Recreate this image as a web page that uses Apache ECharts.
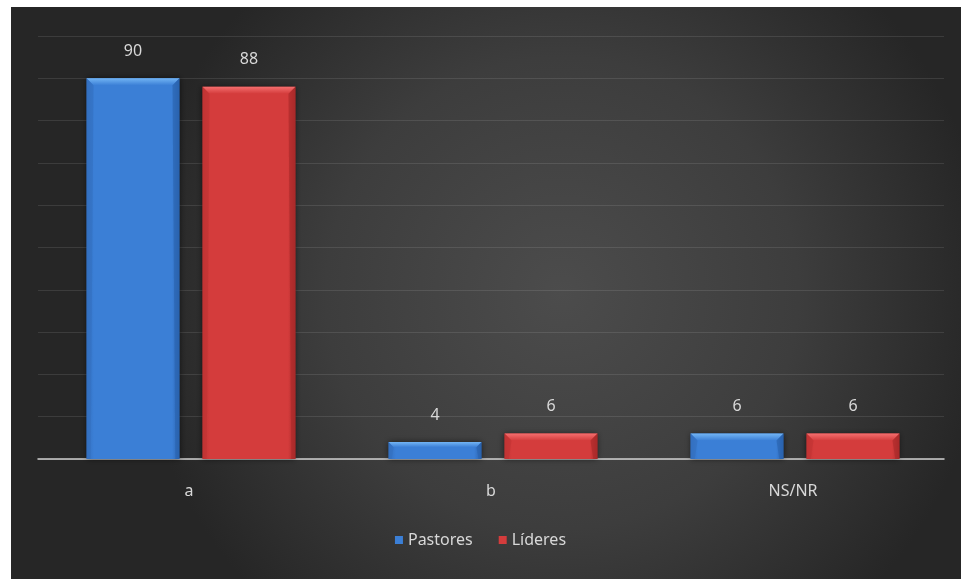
<!DOCTYPE html>
<html>
<head>
<meta charset="utf-8">
<style>
  html, body { margin: 0; padding: 0; background: #ffffff; }
  #chart { width: 961px; height: 579px; }
</style>
<script src="https://cdn.jsdelivr.net/npm/echarts@6/dist/echarts.min.js"></script>
</head>
<body>
<div id="chart"></div>
<script>
// Answer categories and percentages per group
const categories = ['a', 'b', 'NS/NR'];
const pastores = [90, 4, 6];
const lideres = [88, 6, 6];
const seriesNames = ['Pastores', 'Líderes'];

const palette = [
  { face: '#3b7fd6', light: '#72b4f4', dark: '#2a62ad', side: '#336fbf' },
  { face: '#d43c3c', light: '#f46e6e', dark: '#a82a2a', side: '#c13434' }
];

const FONT = '"Noto Sans", "Open Sans", sans-serif';
const TEXT = '#d8d8d8';

// Beveled bar drawn through the category/value scales
function bevelBar(seriesIdx) {
  return function (params, api) {
    const xi = api.value(0);
    const v = api.value(1);
    const base = api.coord([xi, 0]);
    const top = api.coord([xi, v]);
    const band = api.size([1, 0])[0];
    const bw = band * 0.308;
    const gap = band * 0.076;
    const cx = base[0] + 2 + (seriesIdx === 0 ? -(gap / 2 + bw / 2) : (gap / 2 + bw / 2));
    const x0 = cx - bw / 2, x1 = cx + bw / 2;
    const y0 = top[1], y1 = base[1];
    const h = y1 - y0;
    const b = Math.min(7, h * 0.3);
    const c = palette[seriesIdx];
    return {
      type: 'group',
      children: [
        {
          type: 'rect',
          shape: { x: x0, y: y0, width: bw, height: h },
          style: {
            fill: {
              type: 'linear', x: 0, y: 0, x2: 1, y2: 0,
              colorStops: [
                { offset: 0, color: c.side },
                { offset: 0.08, color: c.face },
                { offset: 0.92, color: c.face },
                { offset: 1, color: c.dark }
              ]
            },
            shadowColor: 'rgba(0,0,0,0.55)',
            shadowBlur: 6
          }
        },
        {
          type: 'polygon',
          shape: { points: [[x0, y0], [x1, y0], [x1 - b, y0 + b], [x0 + b, y0 + b]] },
          style: {
            fill: {
              type: 'linear', x: 0, y: 0, x2: 0, y2: 1,
              colorStops: [
                { offset: 0, color: c.light },
                { offset: 1, color: c.face }
              ]
            }
          }
        },
        {
          type: 'polygon',
          shape: { points: [[x0, y0], [x0 + b, y0 + b], [x0 + b * 0.6, y1], [x0, y1]] },
          style: { fill: c.side, opacity: 0.6 }
        },
        {
          type: 'polygon',
          shape: { points: [[x1, y0], [x1 - b, y0 + b], [x1 - b * 0.6, y1], [x1, y1]] },
          style: { fill: c.dark, opacity: 0.6 }
        },
        {
          type: 'text',
          style: {
            x: cx, y: y0 - 27,
            text: String(v),
            fill: TEXT,
            font: '16px ' + FONT,
            align: 'center',
            verticalAlign: 'middle'
          }
        }
      ]
    };
  };
}

const chart = echarts.init(document.getElementById('chart'), null, { renderer: 'canvas' });

chart.setOption({
  animation: false,
  backgroundColor: '#ffffff',
  graphic: [{
    type: 'rect',
    z: -10,
    silent: true,
    shape: { x: 11, y: 7, width: 950, height: 572 },
    style: {
      fill: {
        type: 'radial', x: 0.58, y: 0.5, r: 0.75,
        colorStops: [
          { offset: 0, color: '#4c4c4c' },
          { offset: 0.55, color: '#3d3d3d' },
          { offset: 1, color: '#262626' }
        ]
      }
    }
  }],
  grid: { left: 38, right: 17, top: 36, bottom: 120 },
  legend: {
    data: seriesNames,
    bottom: 26,
    left: 'center',
    icon: 'rect',
    itemWidth: 8,
    itemHeight: 8,
    itemGap: 26,
    textStyle: { color: TEXT, fontSize: 16, fontFamily: FONT }
  },
  xAxis: {
    type: 'category',
    data: categories,
    axisLine: { lineStyle: { color: '#cfcfcf', width: 1.5 } },
    axisTick: { show: false },
    axisLabel: { color: TEXT, fontSize: 16, fontFamily: FONT, margin: 24 }
  },
  yAxis: {
    type: 'value',
    min: 0,
    max: 100,
    interval: 10,
    axisLine: { show: false },
    axisTick: { show: false },
    axisLabel: { show: false },
    splitLine: { lineStyle: { color: 'rgba(255,255,255,0.1)', width: 1 } }
  },
  series: [
    {
      name: seriesNames[0],
      type: 'custom',
      renderItem: bevelBar(0),
      itemStyle: { color: palette[0].face },
      encode: { x: 0, y: 1 },
      data: pastores.map((v, i) => [i, v])
    },
    {
      name: seriesNames[1],
      type: 'custom',
      renderItem: bevelBar(1),
      itemStyle: { color: palette[1].face },
      encode: { x: 0, y: 1 },
      data: lideres.map((v, i) => [i, v])
    }
  ]
});
</script>
</body>
</html>
